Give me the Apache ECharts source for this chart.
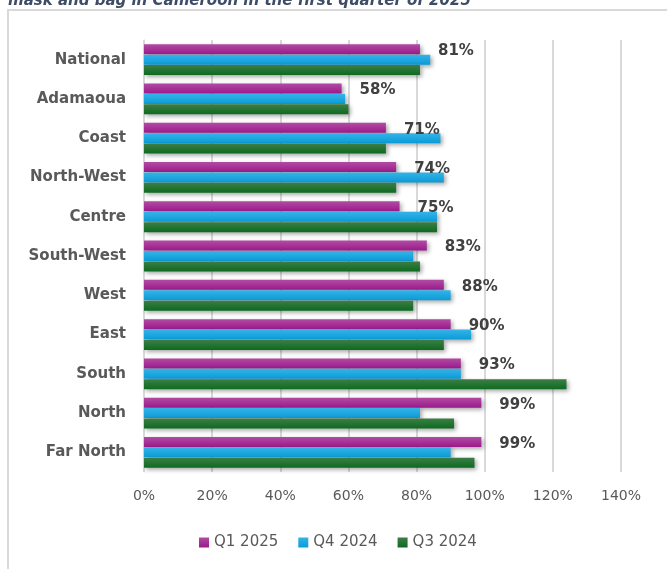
<!DOCTYPE html>
<html>
<head>
<meta charset="utf-8">
<script src="https://cdn.jsdelivr.net/npm/echarts@6/dist/echarts.min.js"></script>
<style>
html,body{margin:0;padding:0;background:#fff;}
#chart{width:667px;height:569px;}
</style>
</head>
<body>
<div id="chart"></div>
<script>
const titleText = 'mask and bag in Cameroon in the first quarter of 2025';
const categories = ['National','Adamaoua','Coast','North-West','Centre','South-West','West','East','South','North','Far North'];
const seriesNames = ['Q1 2025','Q4 2024','Q3 2024'];
const q1_2025 = [81, 58, 71, 74, 75, 83, 88, 90, 93, 99, 99];
const q4_2024 = [84, 59, 87, 88, 86, 79, 90, 96, 93, 81, 90];
const q3_2024 = [81, 60, 71, 74, 86, 81, 79, 88, 124, 91, 97];
const xTicks = [0, 20, 40, 60, 80, 100, 120, 140];

const FONT = 'DejaVu Sans';
function grad(top, bottom) {
  return new echarts.graphic.LinearGradient(0, 0, 0, 1, [
    {offset: 0, color: top}, {offset: 1, color: bottom}
  ]);
}
const colors = [
  {solid: '#A02090', g: grad('#b24ba4', '#9a1a8a')},
  {solid: '#17A2DE', g: grad('#34b3e8', '#0a9bd6')},
  {solid: '#176F28', g: grad('#3c7e46', '#0e6a20')}
];
const datas = [q1_2025, q4_2024, q3_2024];

const series = datas.map((d, i) => ({
  name: seriesNames[i],
  type: 'bar',
  data: d,
  barWidth: 10,
  barGap: '4%',
  itemStyle: {
    color: colors[i].g,
    shadowColor: 'rgba(0,0,0,0.35)',
    shadowBlur: 4,
    shadowOffsetX: 2,
    shadowOffsetY: 2
  },
  label: i === 0 ? {
    show: true,
    position: 'right',
    distance: 18,
    offset: [0, 2],
    formatter: p => p.value + '%',
    fontFamily: FONT,
    fontWeight: 'bold',
    fontSize: 15,
    color: '#404040'
  } : {show: false},
  emphasis: {disabled: true}
}));

const chart = echarts.init(document.getElementById('chart'), null, {renderer: 'canvas'});
chart.setOption({
  animation: false,
  color: colors.map(c => c.solid),
  grid: {left: 144, right: 46, top: 40, bottom: 97, containLabel: false},
  xAxis: {
    type: 'value',
    min: 0, max: 140, interval: 20,
    axisLine: {show: false},
    axisTick: {show: false},
    splitLine: {show: true, lineStyle: {color: '#d9d9d9', width: 2}},
    axisLabel: {
      formatter: v => xTicks.includes(v) ? v + '%' : '',
      fontFamily: FONT, fontSize: 14, color: '#595959', margin: 17
    }
  },
  yAxis: {
    type: 'category',
    data: categories,
    inverse: true,
    axisLine: {show: true, lineStyle: {color: '#d9d9d9', width: 1}},
    axisTick: {show: false},
    axisLabel: {fontFamily: FONT, fontSize: 15, fontWeight: 'bold', color: '#595959', margin: 18}
  },
  legend: {
    bottom: 14,
    left: 194,
    itemWidth: 10,
    itemHeight: 10,
    itemGap: 20,
    icon: 'rect',
    textStyle: {fontFamily: FONT, fontSize: 15, color: '#595959', padding: [0, 0, 0, 0]},
    data: seriesNames
  },
  graphic: [
    {type: 'rect', shape: {x: 8, y: 10, width: 700, height: 620}, style: {fill: 'none', stroke: '#d9d9d9', lineWidth: 2}, z: -1},
    {type: 'text', x: 8, y: 1, style: {text: titleText, font: 'italic bold 15px ' + FONT, fill: '#3E4D66', verticalAlign: 'middle'}}
  ],
  series: series
});
</script>
</body>
</html>
